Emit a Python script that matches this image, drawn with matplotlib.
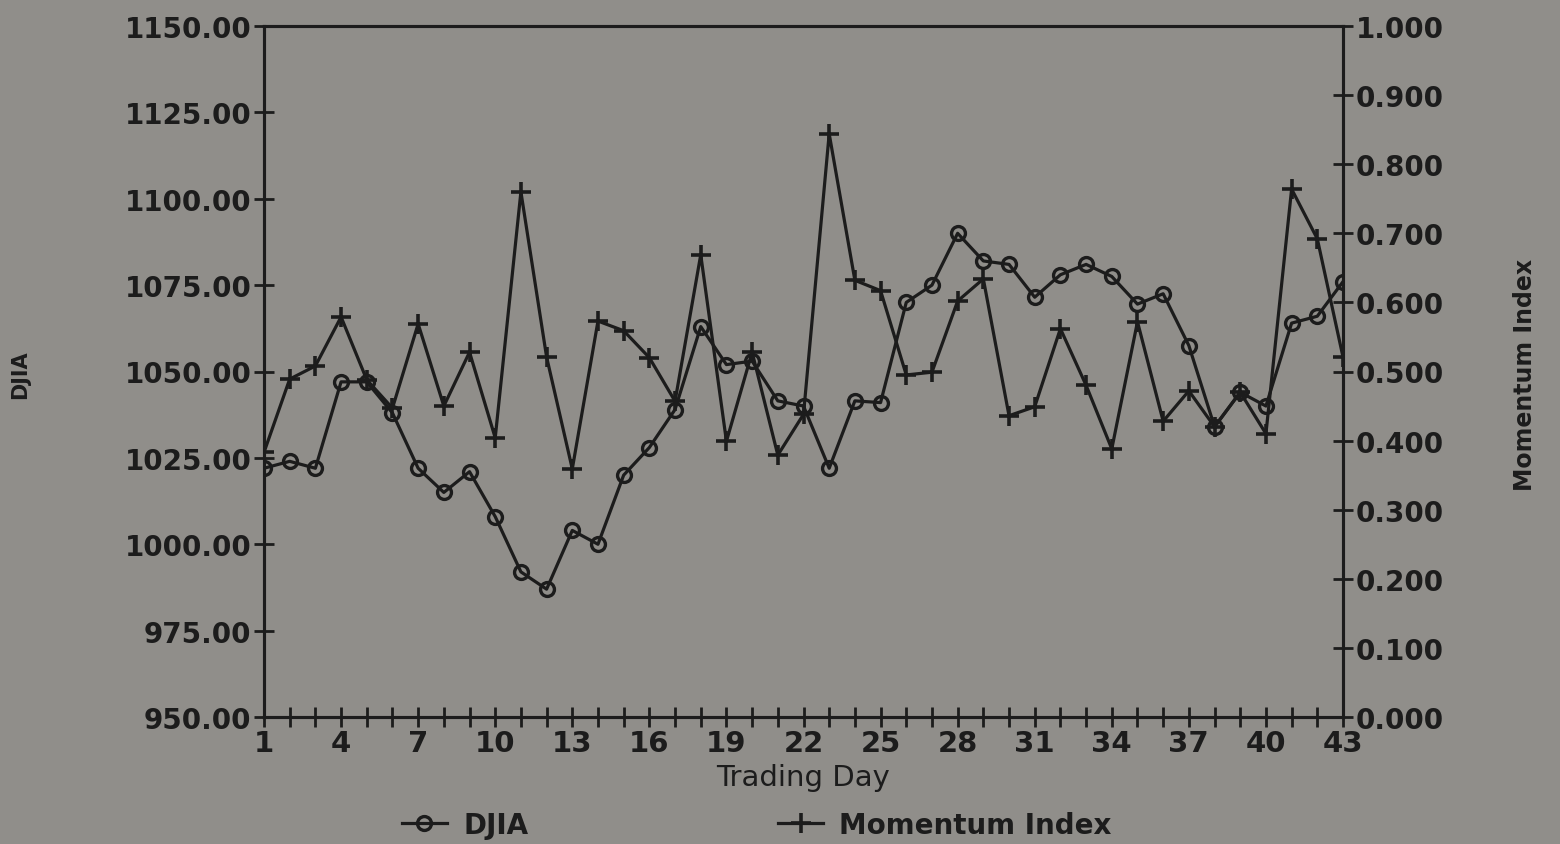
import numpy as np
import matplotlib
matplotlib.use("Agg")
import matplotlib.pyplot as plt

# Datos
dias = list(range(1, 44))
djia = [1022, 1024, 1022, 1047, 1047, 1038, 1022, 1015, 1021, 1008,
        992, 987, 1004, 1000, 1020, 1028, 1039, 1063, 1052, 1053,
        1041.5, 1040, 1022, 1041.5, 1041, 1070, 1075, 1090, 1082, 1081,
        1071.5, 1078, 1081, 1077.5, 1069.5, 1072.5, 1057.5, 1034, 1044, 1040,
        1064, 1066, 1076]
momento = [0.383, 0.489, 0.508, 0.579, 0.488, 0.447, 0.569, 0.450, 0.528, 0.404,
           0.760, 0.521, 0.359, 0.573, 0.559, 0.520, 0.457, 0.669, 0.399, 0.528,
           0.379, 0.438, 0.844, 0.632, 0.617, 0.495, 0.499, 0.602, 0.634, 0.436,
           0.449, 0.562, 0.480, 0.388, 0.572, 0.428, 0.472, 0.420, 0.470, 0.410,
           0.764, 0.692, 0.521]
etiquetas_x = [1, 4, 7, 10, 13, 16, 19, 22, 25, 28, 31, 34, 37, 40, 43]

fondo = "#908e8a"
tinta = "#1c1c1c"
plt.rcParams['font.family'] = ['DejaVu Sans']
plt.rcParams['font.weight'] = 'bold'
plt.rcParams['text.color'] = tinta

fig = plt.figure(figsize=(15.6, 8.45), dpi=100, facecolor=fondo)
ax1 = fig.add_axes([264/1560, 1 - 718/845, (1343 - 264)/1560, (718 - 27)/845])
ax1.set_facecolor(fondo)
ax2 = ax1.twinx()

l1, = ax1.plot(dias, djia, color=tinta, lw=2.3, marker='o', ms=10,
               mfc='none', mec=tinta, mew=2.4, label='DJIA')
l2, = ax2.plot(dias, momento, color=tinta, lw=2.3, marker='+', ms=15,
               mew=2.6, label='Momentum Index')

ax1.set_xlim(1, 43)
ax1.set_ylim(950, 1150)
ax2.set_ylim(0, 1.0)

ax1.set_xticks(dias, minor=True)
ax1.set_xticks(etiquetas_x)
ax1.set_yticks(np.arange(950, 1151, 25))
ax1.set_yticklabels(['%.2f' % v for v in np.arange(950, 1151, 25)])
ax2.set_yticks(np.arange(0, 1.01, 0.1))
ax2.set_yticklabels(['%.3f' % v for v in np.arange(0, 1.01, 0.1)])

for ax in (ax1, ax2):
    for s in ax.spines.values():
        s.set_color(tinta)
        s.set_linewidth(2.2)
ax1.tick_params(axis='x', which='both', direction='inout', length=14, width=2,
                color=tinta, labelsize=21, labelcolor=tinta, pad=2)
ax1.tick_params(axis='y', direction='inout', length=14, width=2, color=tinta,
                labelsize=20, labelcolor=tinta, pad=2)
ax2.tick_params(axis='y', direction='inout', length=14, width=2, color=tinta,
                labelsize=20, labelcolor=tinta, pad=2)

ax1.set_xlabel('Trading Day', fontsize=21, color=tinta, labelpad=4)
fig.text(20/1560, 1 - 375/845, 'DJIA', rotation=90, fontsize=15,
         ha='center', va='center', color=tinta)
fig.text(1525/1560, 1 - 375/845, 'Momentum Index', rotation=90, fontsize=17,
         ha='center', va='center', color=tinta)

fig.legend([l1, l2], ['DJIA', 'Momentum Index'], ncol=2, frameon=False,
           loc='center', bbox_to_anchor=(757/1560, 1 - 826/845),
           fontsize=20, handlelength=1.6, columnspacing=9, handletextpad=0.6)

plt.savefig('out.png', dpi=100, facecolor=fondo)
